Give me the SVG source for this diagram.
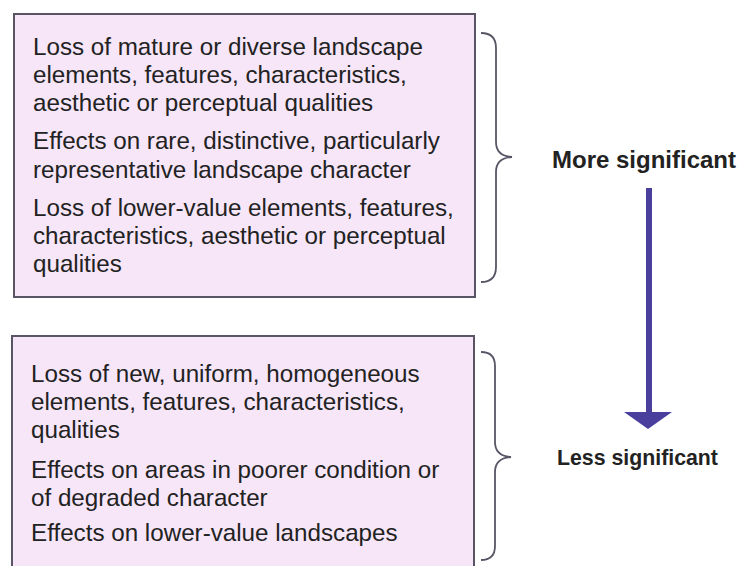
<svg xmlns="http://www.w3.org/2000/svg" width="742" height="566" viewBox="0 0 742 566">
<style>
.box{fill:#f6e6f8;stroke:#5a5566;stroke-width:2}
.t{font-family:"Liberation Sans",Arial,sans-serif;font-size:24.2px;fill:#222}
.lbl{font-family:"Liberation Sans",Arial,sans-serif;font-weight:bold;fill:#222}
.brace{fill:none;stroke:#5a5566;stroke-width:1.8}
</style>
<rect width="742" height="566" fill="#ffffff"/>
<g id="box-more">
<rect class="box" x="14" y="14" width="461" height="283"/>
<text class="t" x="33" y="55">Loss of mature or diverse landscape</text>
<text class="t" x="33" y="83">elements, features, characteristics,</text>
<text class="t" x="33" y="111">aesthetic or perceptual qualities</text>
<text class="t" x="33" y="149">Effects on rare, distinctive, particularly</text>
<text class="t" x="33" y="178">representative landscape character</text>
<text class="t" x="33" y="216">Loss of lower-value elements, features,</text>
<text class="t" x="33" y="244">characteristics, aesthetic or perceptual</text>
<text class="t" x="33" y="272">qualities</text>
</g>
<g id="box-less">
<rect class="box" x="12" y="336" width="462" height="240"/>
<text class="t" x="31" y="382">Loss of new, uniform, homogeneous</text>
<text class="t" x="31" y="410">elements, features, characteristics,</text>
<text class="t" x="31" y="438">qualities</text>
<text class="t" x="31" y="478">Effects on areas in poorer condition or</text>
<text class="t" x="31" y="506">of degraded character</text>
<text class="t" x="31" y="541">Effects on lower-value landscapes</text>
</g>
<g id="brace-more">
<path class="brace" d="M481,33 Q496,33 496,48 L496,142 Q496,156 512,157 Q496,158 496,172 L496,267 Q496,282 481,282"/>
</g>
<g id="brace-less">
<path class="brace" d="M481,352 Q495,352 495,366 L495,442 Q495,456 511,457 Q495,458 495,472 L495,546 Q495,560 481,560"/>
</g>
<g id="label-more">
<text class="lbl" x="552" y="168" font-size="24">More significant</text>
</g>
<g id="label-less">
<text class="lbl" x="557" y="465" font-size="21.3">Less significant</text>
</g>
<g id="connectors">
<line x1="649" y1="188" x2="649" y2="413" stroke="#4b3f9e" stroke-width="6"/>
<path d="M624,412 L672,412 L648,429 Z" fill="#4b3f9e"/>
</g>
</svg>
